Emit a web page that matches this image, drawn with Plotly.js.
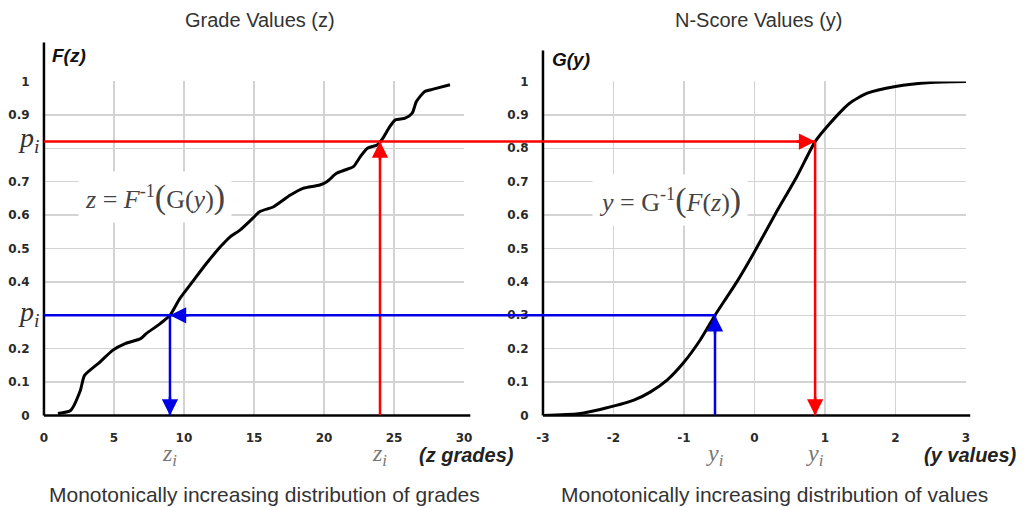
<!DOCTYPE html>
<html><head><meta charset="utf-8">
<script src="https://cdn.plot.ly/plotly-3.0.1.min.js"></script>
<style>html,body{margin:0;padding:0;background:#fff}#chart{width:1027px;height:508px}</style>
</head><body><div id="chart"></div>
<script>
// ---------- data ----------
const zGrades = [1, 1.9, 2.6, 2.9, 4, 4.9, 5.8, 6.9, 7.3, 8.3, 9, 9.7, 10.6, 11.6, 12.6, 13.3, 14, 14.9, 15.4, 16.4, 17.6, 18.5, 19.7, 20.2, 20.9, 21.5, 22.1, 22.6, 23.1, 23.8, 24.2, 24.7, 25.1, 25.8, 26.3, 26.6, 27.2, 27.8, 29];
const Fz      = [0.006, 0.015, 0.075, 0.12, 0.16, 0.195, 0.215, 0.23, 0.245, 0.275, 0.30, 0.35, 0.40, 0.455, 0.505, 0.535, 0.555, 0.59, 0.61, 0.625, 0.66, 0.68, 0.69, 0.70, 0.725, 0.735, 0.745, 0.775, 0.80, 0.81, 0.83, 0.865, 0.885, 0.89, 0.905, 0.94, 0.97, 0.977, 0.99];
const yValues = [-3, -2.5, -2.19, -1.72, -1.48, -1.24, -1.01, -0.77, -0.56, -0.39, -0.25, 0, 0.3, 0.6, 0.86, 1.05, 1.35, 1.6, 2, 2.5, 3];
const Gy      = [0, 0.005, 0.018, 0.045, 0.07, 0.106, 0.157, 0.226, 0.30, 0.355, 0.40, 0.49, 0.605, 0.715, 0.82, 0.87, 0.935, 0.965, 0.985, 0.997, 1.0];

const zTicks = [0, 5, 10, 15, 20, 25, 30];
const zTickText = ['0', '5', '10', '15', '20', '25', '30'];
const yTicks = [-3, -2, -1, 0, 1, 2, 3];
const yTickText = ['-3', '-2', '-1', '0', '1', '2', '3'];
const probTicks = [0, 0.1, 0.2, 0.3, 0.4, 0.5, 0.6, 0.7, 0.8, 0.9, 1];
const probTextLeft  = ['0', '0.1', '0.2', '', '0.4', '0.5', '0.6', '0.7', '', '0.9', '1'];
const probTextRight = ['0', '0.1', '0.2', '0.3', '0.4', '0.5', '0.6', '0.7', '0.8', '0.9', '1'];

// transformation mappings: [upper (red), lower (blue)]
const mapP = [0.82, 0.30];
const mapZ = [24, 9];
const mapY = [0.86, -0.56];
const mapColor = ['#ff0000', '#0000e6'];

// ---------- layout ----------
const domL = [0.0428, 0.4518];
const domR = [0.5287, 0.9406];
const domY = [0.1821, 0.8396];

const tickFont = {family: 'DejaVu Sans', size: 12, color: '#2a2a2a', weight: 'bold'};
function axisBase(extra) {
  return Object.assign({
    showgrid: true, gridcolor: '#d3d3d3', gridwidth: 1.5,
    zeroline: false, showline: false,
    ticks: 'outside', tickcolor: 'rgba(0,0,0,0)', ticklen: 11,
    tickmode: 'array', tickfont: tickFont, fixedrange: true
  }, extra);
}

const traces = [
  {x: zGrades, y: Fz, xaxis: 'x', yaxis: 'y', mode: 'lines',
   line: {color: '#000', width: 3, shape: 'spline', smoothing: 0.6}, hoverinfo: 'skip'},
  {x: yValues, y: Gy, xaxis: 'x2', yaxis: 'y2', mode: 'lines',
   line: {color: '#000', width: 3, shape: 'spline', smoothing: 0.6}, hoverinfo: 'skip'}
];

const shapes = [];
// axis lines (y axis extends above the plot area)
shapes.push({type: 'line', xref: 'x domain', yref: 'y domain', x0: 0, x1: 0, y0: 0, y1: 1.117, line: {color: '#000', width: 2.5}});
shapes.push({type: 'line', xref: 'x domain', yref: 'y domain', x0: 0, x1: 1.015, y0: 0, y1: 0, line: {color: '#000', width: 2.5}});
shapes.push({type: 'line', xref: 'x2 domain', yref: 'y2 domain', x0: 0, x1: 0, y0: 0, y1: 1.093, line: {color: '#000', width: 2.5}});
shapes.push({type: 'line', xref: 'x2 domain', yref: 'y2 domain', x0: 0, x1: 1.01, y0: 0, y1: 0, line: {color: '#000', width: 2.5}});

const annotations = [];
function head(xref, yref, x, y, ax, ay, color) {
  annotations.push({xref: xref, yref: yref, x: x, y: y, ax: ax, ay: ay, text: '', showarrow: true,
    arrowhead: 2, arrowsize: 1.3, arrowwidth: 2.5, arrowcolor: color, standoff: 0});
}
for (let i = 0; i < mapP.length; i++) {
  const c = mapColor[i];
  const lw = {color: c, width: 2.5};
  // horizontal line across the left plot and the gap
  shapes.push({type: 'line', xref: 'paper', yref: 'y', x0: domL[0], x1: domR[0], y0: mapP[i], y1: mapP[i], line: lw});
  // horizontal line inside the right plot up to the curve
  shapes.push({type: 'line', xref: 'x2', yref: 'y2', x0: -3, x1: mapY[i], y0: mapP[i], y1: mapP[i], line: lw});
  // vertical lines
  shapes.push({type: 'line', xref: 'x', yref: 'y', x0: mapZ[i], x1: mapZ[i], y0: 0, y1: mapP[i], line: lw});
  shapes.push({type: 'line', xref: 'x2', yref: 'y2', x0: mapY[i], x1: mapY[i], y0: 0, y1: mapP[i], line: lw});
}
// red: z -> F(z) -> G^-1
head('x', 'y', mapZ[0], mapP[0], 0, 20, mapColor[0]);
head('x2', 'y2', mapY[0], mapP[0], -20, 0, mapColor[0]);
head('x2', 'y2', mapY[0], 0, 0, -20, mapColor[0]);
// blue: y -> G(y) -> F^-1
head('x2', 'y2', mapY[1], mapP[1], 0, 20, mapColor[1]);
head('x', 'y', mapZ[1], mapP[1], 20, 0, mapColor[1]);
head('x', 'y', mapZ[1], 0, 0, -20, mapColor[1]);

const sans = 'Liberation Sans, Arial, sans-serif';
const serif = 'Liberation Serif, Times New Roman, serif';
function txt(o) { annotations.push(Object.assign({showarrow: false, xanchor: 'center', yanchor: 'middle'}, o)); }

txt({xref: 'paper', yref: 'paper', x: 0.2527, y: 0.9606, text: 'Grade Values (z)', font: {family: sans, size: 20, color: '#333'}});
txt({xref: 'paper', yref: 'paper', x: 0.739, y: 0.9606, text: 'N-Score Values (y)', font: {family: sans, size: 20, color: '#333'}});
txt({xref: 'paper', yref: 'paper', x: 0.0672, y: 0.8898, text: '<b><i>F(z)</i></b>', font: {family: sans, size: 19, color: '#111'}});
txt({xref: 'paper', yref: 'paper', x: 0.556, y: 0.882, text: '<b><i>G(y)</i></b>', font: {family: sans, size: 19, color: '#111'}});
txt({xref: 'paper', yref: 'paper', x: 0.4543, y: 0.104, text: '<b><i>(z grades)</i></b>', font: {family: sans, size: 20, color: '#222'}});
txt({xref: 'paper', yref: 'paper', x: 0.9445, y: 0.104, text: '<b><i>(y values)</i></b>', font: {family: sans, size: 20, color: '#222'}});
txt({xref: 'paper', yref: 'paper', x: 0.258, y: 0.0256, text: 'Monotonically increasing distribution of grades', font: {family: sans, size: 21, color: '#333'}});
txt({xref: 'paper', yref: 'paper', x: 0.7546, y: 0.0256, text: 'Monotonically increasing distribution of values', font: {family: sans, size: 21, color: '#333'}});

for (let i = 0; i < mapP.length; i++) {
  txt({xref: 'paper', yref: 'y', x: 0.0273, y: mapP[i], yshift: 2, text: '<i>p<sub>i</sub></i>', font: {family: serif, size: 28, color: '#333'}});
  txt({xref: 'x', yref: 'paper', x: mapZ[i], y: 0.104, text: '<i>z<sub>i</sub></i>', font: {family: serif, size: 24, color: '#777'}});
  txt({xref: 'x2', yref: 'paper', x: mapY[i], y: 0.104, text: '<i>y<sub>i</sub></i>', font: {family: serif, size: 24, color: '#777'}});
}

txt({xref: 'paper', yref: 'paper', x: 0.151, y: 0.612, bgcolor: '#fff', borderpad: 6,
  text: '<i>z</i> = <i>F</i><sup>-1</sup><span style="font-size:34px">(</span>G(<i>y</i>)<span style="font-size:34px">)</span>',
  font: {family: serif, size: 26, color: '#444'}});
txt({xref: 'paper', yref: 'paper', x: 0.6526, y: 0.606, bgcolor: '#fff', borderpad: 6,
  text: '<i>y</i> = G<sup>-1</sup><span style="font-size:34px">(</span><i>F</i>(<i>z</i>)<span style="font-size:34px">)</span>',
  font: {family: serif, size: 26, color: '#444'}});

const layout = {
  width: 1027, height: 508,
  margin: {l: 0, r: 0, t: 0, b: 0},
  paper_bgcolor: '#fff', plot_bgcolor: '#fff',
  showlegend: false,
  xaxis: axisBase({domain: domL, range: [0, 30], tickvals: zTicks, ticktext: zTickText, anchor: 'y'}),
  yaxis: axisBase({domain: domY, range: [0, 1], tickvals: probTicks, ticktext: probTextLeft, anchor: 'x'}),
  xaxis2: axisBase({domain: domR, range: [-3, 3], tickvals: yTicks, ticktext: yTickText, anchor: 'y2'}),
  yaxis2: axisBase({domain: domY, range: [0, 1], tickvals: probTicks, ticktext: probTextRight, anchor: 'x2'}),
  shapes: shapes,
  annotations: annotations
};

Plotly.newPlot('chart', traces, layout, {displayModeBar: false, staticPlot: true});
</script>
</body></html>
